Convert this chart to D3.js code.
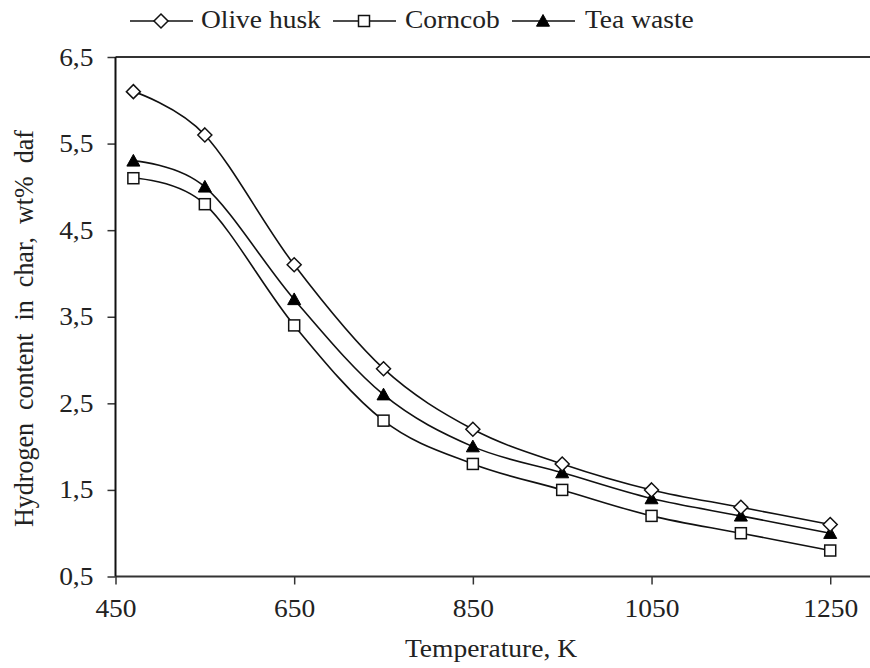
<!DOCTYPE html>
<html>
<head>
<meta charset="utf-8">
<script src="https://cdn.jsdelivr.net/npm/d3@7"></script>
<style>
  body { margin: 0; background: #fff; }
  svg { display: block; }
  text { font-family: "Liberation Serif", "Times New Roman", serif; fill: #222; }
</style>
</head>
<body>
<svg id="chart" width="870" height="668"></svg>
<script>
// ---- data ----
const temperatures = [470, 550, 650, 750, 850, 950, 1050, 1150, 1250];
const oliveHusk = [6.1, 5.6, 4.1, 2.9, 2.2, 1.8, 1.5, 1.3, 1.1];
const corncob   = [5.1, 4.8, 3.4, 2.3, 1.8, 1.5, 1.2, 1.0, 0.8];
const teaWaste  = [5.3, 5.0, 3.7, 2.6, 2.0, 1.7, 1.4, 1.2, 1.0];
const seriesNames = ["Olive husk", "Corncob", "Tea waste"];
const xTicks = [450, 650, 850, 1050, 1250];
const yTicks = [0.5, 1.5, 2.5, 3.5, 4.5, 5.5, 6.5];
const xTitle = "Temperature, K";
const yTitle = "Hydrogen content in char, wt% daf";

const series = [
  { name: seriesNames[0], values: oliveHusk, marker: "diamond" },
  { name: seriesNames[1], values: corncob, marker: "square" },
  { name: seriesNames[2], values: teaWaste, marker: "triangle" }
];

const svg = d3.select("#chart");
const mLeft = 115.5, mTop = 57, mBottom = 576.5;
const x = d3.scaleLinear().domain([450, 1300]).range([mLeft, mLeft + 850 * 0.8934]);
const y = d3.scaleLinear().domain([0.5, 6.5]).range([mBottom, mTop]);
const K = 1.1; // horizontal stretch of the reference's type
const FS = "25px";

const fmt = d => d3.format(".1f")(d).replace(".", ",");

// stretch each text horizontally about its anchor point
function hstretch(sel, k) {
  sel.each(function () {
    const t = d3.select(this);
    const tx = +t.attr("x") || 0, ty = +t.attr("y") || 0;
    t.attr("x", 0).attr("y", 0).attr("transform", `translate(${tx},${ty}) scale(${k},1)`);
  });
}

// axes
const yAxis = svg.append("g").attr("transform", `translate(${mLeft},0)`)
  .call(d3.axisLeft(y).tickValues(yTicks).tickFormat(fmt).tickSize(8).tickPadding(14));
const xAxis = svg.append("g").attr("transform", `translate(0,${mBottom})`)
  .call(d3.axisBottom(x).tickValues(xTicks).tickFormat(d3.format("d")).tickSize(8).tickPadding(15));
[yAxis, xAxis].forEach(g => {
  g.attr("font-family", '"Liberation Serif", serif');
  g.select(".domain").remove();
  g.selectAll(".tick line").attr("stroke", "#333").attr("stroke-width", 1.5);
  g.selectAll(".tick text").style("font-family", '"Liberation Serif", serif')
    .style("font-size", FS).attr("fill", "#222");
  hstretch(g.selectAll(".tick text"), K);
});

// frame (cropped on right)
svg.append("line").attr("x1", mLeft).attr("x2", 870).attr("y1", mTop).attr("y2", mTop)
  .attr("stroke", "#333").attr("stroke-width", 2);
svg.append("line").attr("x1", mLeft).attr("x2", 870).attr("y1", mBottom).attr("y2", mBottom)
  .attr("stroke", "#333").attr("stroke-width", 2);
svg.append("line").attr("x1", mLeft).attr("x2", mLeft).attr("y1", mTop).attr("y2", mBottom)
  .attr("stroke", "#111").attr("stroke-width", 2);

// lines
const line = d3.line().x((d, i) => x(temperatures[i])).y(d => y(d))
  .curve(d3.curveCatmullRom.alpha(0));

function drawMarker(g, type, cx, cy) {
  if (type === "diamond") {
    const s = 7;
    g.append("path").attr("d", `M${cx},${cy - s}L${cx + s},${cy}L${cx},${cy + s}L${cx - s},${cy}Z`)
      .attr("fill", "#fff").attr("stroke", "#111").attr("stroke-width", 1.5);
  } else if (type === "square") {
    const s = 5.5;
    g.append("rect").attr("x", cx - s).attr("y", cy - s).attr("width", 2 * s).attr("height", 2 * s)
      .attr("fill", "#fff").attr("stroke", "#111").attr("stroke-width", 1.5);
  } else {
    const s = 6.5;
    g.append("path").attr("d", `M${cx},${cy - s}L${cx + s},${cy + s * 0.8}L${cx - s},${cy + s * 0.8}Z`)
      .attr("fill", "#000").attr("stroke", "#000").attr("stroke-width", 1);
  }
}

series.forEach(s => {
  svg.append("path").datum(s.values).attr("d", line)
    .attr("fill", "none").attr("stroke", "#111").attr("stroke-width", 1.6);
});
// markers drawn so overlaps resemble the reference
[series[1], series[2], series[0]].forEach(s => {
  const g = svg.append("g");
  s.values.forEach((v, i) => drawMarker(g, s.marker, x(temperatures[i]), y(v)));
});

// legend
const legendItems = [
  { lx: 130, tx: 201, s: series[0] },
  { lx: 333, tx: 405, s: series[1] },
  { lx: 512, tx: 585, s: series[2] }
];
legendItems.forEach(it => {
  const g = svg.append("g");
  const ly = 21;
  g.append("line").attr("x1", it.lx).attr("x2", it.lx + 63).attr("y1", ly).attr("y2", ly)
    .attr("stroke", "#111").attr("stroke-width", 1.6);
  drawMarker(g, it.s.marker, it.lx + 31, ly);
  const t = g.append("text").attr("x", it.tx).attr("y", 28).style("font-size", FS).text(it.s.name);
  hstretch(t, K);
});

// axis titles
const xt = svg.append("text").attr("x", 491).attr("y", 657).attr("text-anchor", "middle")
  .style("font-size", FS).text(xTitle);
hstretch(xt, K);
const yt = svg.append("text").attr("transform", `translate(33,527) scale(1.05,1) rotate(-90)`)
  .style("font-size", "26px").text(yTitle);
const nat = yt.node().getComputedTextLength();
const spaces = (yTitle.match(/ /g) || []).length;
yt.attr("word-spacing", Math.max(0, (397 - nat) / spaces));
</script>
</body>
</html>
